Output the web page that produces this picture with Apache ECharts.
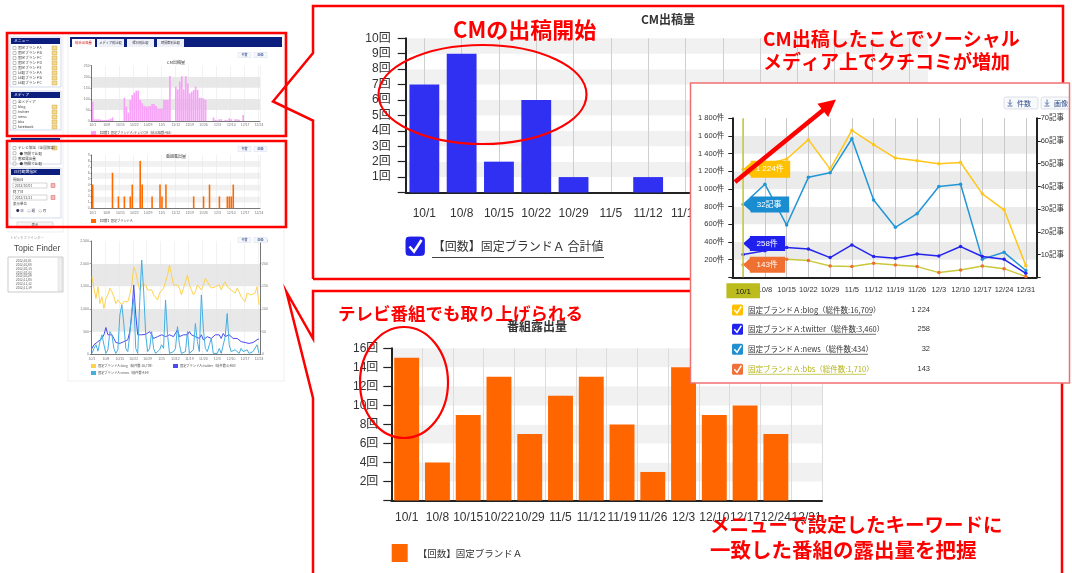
<!DOCTYPE html>
<html><head><meta charset="utf-8">
<script src="https://cdn.jsdelivr.net/npm/echarts/dist/echarts.min.js"></script>
<style>
html,body{margin:0;padding:0;background:#fff;}
#wrap{position:relative;width:1072px;height:573px;overflow:hidden;background:#fff;}
#base,#overlay{position:absolute;left:0;top:0;width:1072px;height:573px;}
#inset{position:absolute;left:690px;top:83px;width:380px;height:300px;}
#overlay{pointer-events:none;}
</style></head>
<body><div id="wrap"><div id="base"></div><div id="inset"></div><div id="overlay"></div></div>
<script>
// ---------------- data ----------------
const weeks = ['10/1','10/8','10/15','10/22','10/29','11/5','11/12','11/19','11/26','12/3','12/10','12/17','12/24','12/31'];
const cmCounts = [7,9,2,6,1,0,1,0,0,0,0,0,0,0];
const tvCounts = [15,4,9,13,7,11,13,8,3,14,9,10,7,0];
const blogVals = [1224,1280,1339,1558,1225,1664,1501,1350,1320,1286,1300,945,764,132];
const twitterVals = [258,300,336,321,223,367,235,216,264,242,348,235,204,45];
const newsVals = [32,41,23,44,46,61,34,22,28,40,41,8,11,3];
const bbsVals = [143,175,204,189,128,121,159,140,121,53,83,128,98,8];
const insetLegend = [
  {name:'固定ブランドＡ:blog（総件数:16,709）', value:'1 224'},
  {name:'固定ブランドＡ:twitter（総件数:3,460）', value:'258'},
  {name:'固定ブランドＡ:news（総件数:434）', value:'32'},
  {name:'固定ブランドＡ:bbs（総件数:1,710）', value:'143'}
];
// thumbnails (daily, from 10/1)
const pinkDaily = [87,8,7,8,6,5,4,5,6,10,16,0,0,0,0,0,105,65,38,95,117,128,137,137,95,80,68,65,65,68,77,77,68,57,57,57,95,95,95,203,0,0,155,143,178,203,143,203,170,125,132,140,155,140,105,105,102,95,0,0,0,16,5,3,8,8,0,5,3,12,8,0,8,8,6,0,27,0,0,0,0,0,0,0,0];
const orangeDaily = [4,0,0,0,0,0,0,0,0,0, 6,0,0,2,0,0,2,0,0,2, 4,0,0,0,8,4,0,0,0,0, 2,0,0,0,4,2,0,4,0,0, 0,0,0,0,0,0,0,0,0,0, 0,2,0,0,0,0,2,0,0,4, 0,0,0,0,2,0,0,0,2,2, 2,4,0,0,0,0,0,0,0,0, 0,0,0,0,0];
const lineBlog = [1710,1460,1230,1490,1120,1270,1010,1230,1310,1460, 1380,1270,1120,1200,1160,1090,1160,1120,1160,1310, 1530,1930,1820,1600,1420,1530,1490,1530,1420,1380, 1420,1310,1270,1200,1350,1380,1460,1420,1750,1970, 1750,1530,1530,1530,1460,1310,1460,1600,1750,1530, 1490,1310,1380,1530,1490,1420,1530,1680,1680,1530, 1460,1420,1490,1460,1530,1420,1530,1600,1490,1490, 1420,1460,1350,1460,1380,1270,1270,1160,1350,1380, 1310,1270,1350,1490,1090];
const lineTwitter = [130,210,240,280,320,350,430,590,430,390, 430,350,260,280,240,280,280,290,320,500, 870,1530,870,430,390,430,390,440,430,500, 430,350,390,390,430,430,460,390,350,430, 460,390,430,540,390,350,430,460,430,500, 430,460,390,430,350,430,320,350,390,430, 350,320,430,390,430,350,460,390,350,430, 390,350,390,350,320,280,290,260,240,240, 260,260,280,320,340];
const lineNews = [2,13,21,7,28,43,21,2,10,50, 43,13,2,10,87,109,68,13,6,43, 94,123,13,2,116,208,138,43,6,13, 50,13,2,2,10,21,13,120,43,2, 2,6,13,61,21,2,2,6,50,2, 2,10,68,28,6,131,57,13,6,21, 35,2,2,2,13,2,6,39,90,21, 6,2,10,6,2,13,6,2,10,2, 6,6,2,21,2];
const thumbDays = [];
for (let i = 0; i < pinkDaily.length; i++) { const d = new Date(2012, 9, 1 + i); thumbDays.push((d.getMonth()+1) + '/' + d.getDate()); }
const centerSlots = Array.from({length: weeks.length*2+1}, (_, i) => String(i));

// ---------------- helpers ----------------
const LAT = "'Liberation Sans','Noto Sans CJK JP',sans-serif";
const JP = "'Noto Sans CJK JP','Liberation Sans',sans-serif";
function T(x, y, text, size, color, o) {
  o = o || {};
  const al = o.align || 'left', va = o.va || 'middle';
  return {type:'text', x:x, y:y, z:o.z || 5, silent:true,
    style:{text:text, fill:color, fontSize:size, fontFamily:o.family || JP, fontWeight:o.weight || 'normal',
      align:al, verticalAlign:va, textAlign:al, textVerticalAlign:va}};
}
function R(x, y, w, h, fill, stroke, lw, z, r) {
  return {type:'rect', z:z || 1, silent:true, shape:{x:x, y:y, width:w, height:h, r:r || 0},
    style:{fill:fill || 'none', stroke:stroke || 'none', lineWidth:lw || 0}};
}
function L(x1, y1, x2, y2, color, lw, z) {
  return {type:'line', z:z || 5, silent:true, shape:{x1:x1, y1:y1, x2:x2, y2:y2}, style:{stroke:color, lineWidth:lw || 1}};
}
function PL(points, color, lw, z) {
  return {type:'polyline', z:z || 5, silent:true, shape:{points:points}, style:{stroke:color, lineWidth:lw || 1, fill:'none'}};
}
function fmtSpace(v) { return v >= 1000 ? Math.floor(v/1000) + ' ' + String(v % 1000).padStart(3, '0') : String(v); }

// ---------------- base graphics (mock UI + red frames) ----------------
const g = [];
function panel(x, y, w, h, header, rows, step, icons) {
  g.push(R(x, y, w, h, '#fff', '#c3cbe4', 0.7, 1));
  if (header !== null) {
    g.push(R(x + 1, y + 1, w - 2, 6, '#0c1f7f', null, 0, 2));
    g.push(T(x + 4, y + 4, header, 3.8, '#fff', {z:3}));
  } else {
    g.push(R(x + 1, y + 1, w - 2, 2, '#0c1f7f', null, 0, 2));
  }
  rows.forEach((lab, i) => {
    const ry = y + 11 + i * step;
    g.push(R(x + 3, ry - 1.5, 3, 3, '#fff', '#8a8a8a', 0.5, 2));
    g.push(T(x + 8, ry, lab, 3.6, '#444', {z:3}));
    if (icons && icons[i]) g.push(R(x + w - 9, ry - 2, 5, 4, '#f2d98c', '#c8a040', 0.4, 2));
  });
}
g.push(R(8, 34, 55, 198, 'none', '#e3e3e3', 0.6, 1));
panel(10, 37, 51, 50, 'メニュー', ['固定ブランドA','固定ブランドB','固定ブランドC','固定ブランドD','固定ブランドE','比較ブランドA','比較ブランドB','比較ブランドC'], 5, [1,1,1,1,1,1,1,1]);
panel(10, 91, 51, 39, 'メディア', ['全メディア','blog','twitter','news','bbs','facebook'], 5, [0,1,1,1,1,1]);
panel(10, 137, 51, 27, null, ['テレビ放送（全国放送）','  ● 期間で比較','番組露出量','  ● 期間で比較'], 5.2, [1,0,0,0]);
// date panel
g.push(R(10, 168, 51, 50, '#fff', '#c3cbe4', 0.7, 1));
g.push(R(11, 169, 49, 6, '#0c1f7f', null, 0, 2));
g.push(T(14, 172, '日付範囲指定', 3.8, '#fff', {z:3}));
g.push(T(13, 180, '開始日', 3.5, '#444'));
g.push(R(13, 183, 34, 5, '#fff', '#aaa', 0.5, 2));
g.push(T(15, 185.5, '2012/10/01', 3.3, '#555'));
g.push(R(51, 183.5, 4, 4, '#f6b8b8', '#d04040', 0.4, 2));
g.push(T(13, 192, '終了日', 3.5, '#444'));
g.push(R(13, 195, 34, 5, '#fff', '#aaa', 0.5, 2));
g.push(T(15, 197.5, '2012/12/31', 3.3, '#555'));
g.push(R(51, 195.5, 4, 4, '#f6b8b8', '#d04040', 0.4, 2));
g.push(T(13, 204, '表示単位', 3.5, '#444'));
g.push(T(16, 211, '● 日　○ 週　○ 月', 3.5, '#335'));
g.push(R(17, 222, 36, 6, '#f5f5f5', '#bbb', 0.5, 2));
g.push(T(35, 225, '表示', 3.4, '#444', {align:'center'}));
g.push(T(10, 238, 'トピックファインダー', 3.4, '#999'));
g.push(T(14, 249, 'Topic Finder', 8.5, '#444', {family:LAT}));
g.push(R(8, 257, 55, 35, '#fff', '#aaa', 0.6, 1));
g.push(R(58, 258, 4, 33, '#f0f0f0', '#ccc', 0.4, 2));
['2012/10/01','2012/10/08','2012/10/15','2012/10/22','2012/10/29','2012/11/05','2012/11/12','2012/11/19'].forEach((s, i) => g.push(T(16, 261 + i * 3.8, s, 3, '#555')));
// tabs + thumbnail frame
g.push(R(68, 34, 216, 347, 'none', '#e4e4e4', 0.6, 1));
g.push(R(70, 37, 212, 10, '#0c1f7f', null, 0, 2));
g.push(R(72, 39, 23, 8, '#fff', null, 0, 3));
g.push(T(83.5, 43, '総合出稿量', 3.3, '#d02020', {align:'center', z:4}));
[[97,'メディア別比較'],[127,'曜日別比較'],[157,'時間帯別比較']].forEach(t => {
  g.push(R(t[0], 39, 27, 8, '#eef1f8', null, 0, 3));
  g.push(T(t[0] + 13.5, 43, t[1], 3.2, '#334', {align:'center', z:4}));
});
[[55,'CM出稿量'],[149,'番組露出量'],[240,null]].forEach(b => {
  g.push(R(238, b[0] - 2.5, 13, 5, '#f6f8fc', '#cfd5e6', 0.4, 2));
  g.push(T(244.5, b[0], '件数', 3, '#2a4a8a', {align:'center', z:3}));
  g.push(R(254, b[0] - 2.5, 13, 5, '#f6f8fc', '#cfd5e6', 0.4, 2));
  g.push(T(260.5, b[0], '画像', 3, '#2a4a8a', {align:'center', z:3}));
  if (b[1]) g.push(T(176, b[0] + 7, b[1], 4, '#333', {align:'center'}));
});
g.push(R(91, 131, 5, 4, '#f7a1f7', null, 0, 2));
g.push(T(98, 133, '【回数】固定ブランドＡ:テレビCM（総出稿数:463）', 3.2, '#555'));
g.push(R(91, 219, 5, 4, '#ff6a00', null, 0, 2));
g.push(T(98, 221, '【回数】固定ブランドＡ', 3.2, '#555'));
g.push(R(91, 364, 5, 4, '#ffd24d', null, 0, 2));
g.push(T(98, 366, '固定ブランドＡ:blog（総件数:16,709）', 3.2, '#555'));
g.push(R(173, 364, 5, 4, '#4a4af0', null, 0, 2));
g.push(T(180, 366, '固定ブランドＡ:twitter（総件数:3,460）', 3.2, '#555'));
g.push(R(91, 371, 5, 4, '#45aee0', null, 0, 2));
g.push(T(98, 373, '固定ブランドＡ:news（総件数:434）', 3.2, '#555'));
// top chart legend checkbox + underline
g.push(R(405.7, 236.7, 19, 19, '#1f1fe8', null, 0, 100, 3));
g.push(PL([[409.5, 246.5],[414, 251.5],[421.5, 240]], '#fff', 2.6, 101));
g.push(L(432, 257.5, 604, 257.5, '#444', 1, 100));
// red frames
g.push({type:'polyline', z:100, silent:true, shape:{points:[[313,279],[313,120.5],[273,101.5],[313,53],[313,6],[1063,6],[1063,279],[313,279]]}, style:{stroke:'#ff0000', lineWidth:2.5, fill:'none'}});
g.push({type:'polyline', z:100, silent:true, shape:{points:[[313,580],[313,398],[286.5,292],[313,338.5],[313,291],[1062,291],[1062,580]]}, style:{stroke:'#ff0000', lineWidth:2.5, fill:'none'}});
g.push(R(7, 33, 279, 103, 'none', '#ff0000', 2.6, 100));
g.push(R(7, 141, 279, 86, 'none', '#ff0000', 2.6, 100));

const yMain = (gi, max, iv, mg) => ({type:'value', gridIndex:gi, min:0, max:max, interval:iv,
  axisLine:{show:true, lineStyle:{color:'#222', width:2}}, axisTick:{show:true, length:8, lineStyle:{color:'#222', width:1.2}},
  axisLabel:{formatter:v => v ? v + '回' : '', fontSize:12, color:'#333', margin:mg, fontFamily:LAT},
  splitLine:{show:false}, splitArea:{show:true, areaStyle:{color:['#ffffff','#f1f1f1']}}});
const dayAxis = gi => ({type:'category', gridIndex:gi, data:thumbDays,
  axisLine:{lineStyle:{color:'#555', width:0.8}}, axisTick:{show:false},
  axisLabel:{interval:6, fontSize:3.5, color:'#777', margin:2.5},
  splitLine:{show:true, interval:6, lineStyle:{color:'#e4e4e4', width:0.5}}});
const thumbY = (gi, max, iv, pos, band) => ({type:'value', gridIndex:gi, min:0, max:max, interval:iv, position:pos,
  axisLine:{show:true, lineStyle:{color:'#555', width:0.8}}, axisTick:{show:true, length:1.5, lineStyle:{color:'#555', width:0.5}},
  axisLabel:{fontSize:3.5, color:'#777', margin:2}, splitLine:{show:false},
  splitArea:{show:band, areaStyle:{color:['#ffffff','#e8e8e8']}}});

const base = echarts.init(document.getElementById('base'));
base.setOption({
  animation:false,
  backgroundColor:'#ffffff',
  textStyle:{fontFamily:LAT},
  title:[
    {text:'CM出稿量', left:641, top:13, padding:0, textStyle:{fontSize:12, fontWeight:'bold', color:'#333', fontFamily:JP}},
    {text:'番組露出量', left:507, top:320, padding:0, textStyle:{fontSize:12, fontWeight:'bold', color:'#333', fontFamily:JP}}
  ],
  legend:[
    {data:['【回数】固定ブランドＡ 合計値'], left:405.7, top:236.7, padding:0, itemWidth:19, itemHeight:19, icon:'roundRect',
      selectedMode:false, textStyle:{fontSize:12, color:'#333', fontFamily:JP, padding:[0,0,0,3]}},
    {data:['【回数】固定ブランドＡ'], left:391.7, top:544, padding:0, itemWidth:16, itemHeight:18, icon:'rect',
      selectedMode:false, textStyle:{fontSize:9.5, color:'#333', fontFamily:JP, padding:[0,0,0,5]}}
  ],
  grid:[
    {left:405.7, top:38.3, width:522.2, height:154.2},
    {left:391.3, top:348.3, width:430.7, height:152.2},
    {left:91.7, top:65.7, width:168.3, height:55.3},
    {left:91.7, top:155, width:168.3, height:53.3},
    {left:91, top:241, width:169, height:113.3}
  ],
  xAxis:[
    {type:'category', gridIndex:0, data:weeks, axisLine:{lineStyle:{color:'#222', width:2}},
      axisTick:{alignWithLabel:true, length:7, lineStyle:{color:'#222', width:1.2}},
      axisLabel:{interval:0, fontSize:12, color:'#333', margin:15}, splitLine:{show:false}},
    {type:'category', gridIndex:0, data:centerSlots, boundaryGap:false, position:'top',
      axisLine:{show:false}, axisTick:{show:false}, axisLabel:{show:false},
      splitLine:{show:true, interval:i => i % 2 === 1, lineStyle:{color:'#cfcfcf', width:1}}},
    {type:'category', gridIndex:1, data:weeks, axisLine:{lineStyle:{color:'#222', width:2}},
      axisTick:{alignWithLabel:true, length:7, lineStyle:{color:'#222', width:1.2}},
      axisLabel:{interval:0, fontSize:12, color:'#333', margin:11},
      splitLine:{show:true, lineStyle:{color:'#dcdcdc', width:1}}},
    dayAxis(2), dayAxis(3), dayAxis(4)
  ],
  yAxis:[
    yMain(0, 10, 1, 15),
    yMain(1, 16, 2, 13),
    thumbY(2, 250, 50, 'left', true),
    Object.assign(thumbY(3, 9, 1, 'left', true), {splitArea:{show:true, areaStyle:{color:['#ffffff','#f1f1f1']}}}),
    thumbY(4, 2500, 500, 'left', true),
    thumbY(4, 250, 50, 'right', false)
  ],
  series:[
    {name:'【回数】固定ブランドＡ 合計値', type:'bar', xAxisIndex:0, yAxisIndex:0, data:cmCounts, barWidth:'80%',
      itemStyle:{color:'#3030f2'}},
    {name:'【回数】固定ブランドＡ', type:'bar', xAxisIndex:2, yAxisIndex:1, data:tvCounts, barWidth:'81%',
      itemStyle:{color:'#ff6600'}},
    {name:'thumbCM', type:'bar', xAxisIndex:3, yAxisIndex:2, data:pinkDaily, barWidth:'85%',
      itemStyle:{color:'#f7a1f7'}},
    {name:'thumbTV', type:'bar', xAxisIndex:4, yAxisIndex:3, data:orangeDaily, barWidth:'80%',
      itemStyle:{color:'#ff6a00'}},
    {name:'thumbBlog', type:'line', xAxisIndex:5, yAxisIndex:4, data:lineBlog, symbol:'none',
      lineStyle:{color:'#ffd24d', width:1}},
    {name:'thumbTwitter', type:'line', xAxisIndex:5, yAxisIndex:4, data:lineTwitter, symbol:'none',
      lineStyle:{color:'#4a4af0', width:1}},
    {name:'thumbNews', type:'line', xAxisIndex:5, yAxisIndex:5, data:lineNews, symbol:'none',
      lineStyle:{color:'#45aee0', width:1}}
  ],
  graphic:{elements:g}
});

// ---------------- inset line chart ----------------
const flag = 'path://M0,10 L8,2 L8,0 L50,0 L50,20 L8,20 L8,18 Z';
function tag(coordVal, text, color, size, offset) {
  return {silent:true, symbol:flag, symbolKeepAspect:false,
    data:[{coord:[0, coordVal], symbolSize:size, symbolOffset:offset, value:text,
      itemStyle:{color:color},
      label:{show:true, formatter:text, color:'#fff', fontSize:8, offset:[3,0]}}]};
}
const ig = [];
insetLegend.forEach((it, i) => {
  const y = [227, 246.3, 266.3, 286.3][i];
  const col = ['#ffc000','#2222ee','#1f8fd0','#ef7038'][i];
  ig.push(R(42, y - 5.5, 11, 11, col, null, 0, 10, 1.5));
  ig.push(PL([[44.3, y],[47, y + 3],[51.3, y - 3.6]], '#fff', 1.5, 11));
  const tc = i === 3 ? '#b3b318' : '#333';
  ig.push(T(58, y, it.name, 7.5, tc, {z:10}));
  ig.push(L(58, y + 5, [182, 186, 178, 176][i], y + 5, tc, 0.7, 10));
  ig.push(T(240, y, it.value, 7.5, '#333', {align:'right', family:LAT, z:10}));
});
[[314,'件数'],[351,'画像']].forEach(b => {
  ig.push(R(b[0], 14, 34, 12, '#f8f9fb', '#c9cfdb', 0.6, 10, 2));
  ig.push(L(b[0] + 6, 16.5, b[0] + 6, 21.5, '#3a5ca0', 0.8, 11));
  ig.push(PL([[b[0] + 4, 19.5],[b[0] + 6, 21.5],[b[0] + 8, 19.5]], '#3a5ca0', 0.8, 11));
  ig.push(L(b[0] + 3.5, 23, b[0] + 8.5, 23, '#3a5ca0', 0.8, 11));
  ig.push(T(b[0] + 20, 20, b[1], 7, '#2a4a8a', {align:'center', z:11}));
});
const inset = echarts.init(document.getElementById('inset'));
inset.setOption({
  animation:false,
  backgroundColor:'#ffffff',
  textStyle:{fontFamily:LAT},
  grid:{left:42.3, top:35.3, width:304.4, height:159},
  xAxis:[
    {type:'category', data:weeks, axisLine:{lineStyle:{color:'#222', width:2}},
      axisTick:{alignWithLabel:true, length:4, lineStyle:{color:'#222'}},
      axisLabel:{interval:0, fontSize:7.5, color:'#333', margin:9}, splitLine:{show:false},
      axisPointer:{show:true, type:'line', value:0, status:'show', snap:true, triggerTooltip:false,
        lineStyle:{color:'#c9c94a', width:1.5, type:'solid'},
        label:{show:true, backgroundColor:'#bcbc1e', color:'#222', fontSize:8, padding:[4,9,3,9], margin:6, borderRadius:0}}},
    {type:'category', data:centerSlots, boundaryGap:false, position:'top',
      axisLine:{show:false}, axisTick:{show:false}, axisLabel:{show:false},
      splitLine:{show:true, interval:i => i % 2 === 1, lineStyle:{color:'#c8c8c8', width:1}}}
  ],
  yAxis:[
    {type:'value', min:0, max:1800, interval:200, position:'left',
      axisLine:{show:true, lineStyle:{color:'#222', width:2}}, axisTick:{show:true, length:4, lineStyle:{color:'#222'}},
      axisLabel:{formatter:v => v ? fmtSpace(v) + '件' : '', fontSize:7.5, color:'#333', margin:8},
      splitLine:{show:false}, splitArea:{show:true, areaStyle:{color:['#ffffff','#ebebeb']}}},
    {type:'value', min:0, max:70, interval:10, position:'right',
      axisLine:{show:true, lineStyle:{color:'#222', width:2}}, axisTick:{show:true, length:4, lineStyle:{color:'#222'}},
      axisLabel:{formatter:v => v ? v + '記事' : '', fontSize:7.5, color:'#333', margin:4},
      splitLine:{show:false}}
  ],
  series:[
    {name:'blog', type:'line', data:blogVals, yAxisIndex:0, symbol:'circle', symbolSize:3.5,
      lineStyle:{color:'#ffc61a', width:1.5}, itemStyle:{color:'#ffc61a'},
      markPoint:tag(1224, '1 224件', '#ffc000', [47,17], [23.5,0])},
    {name:'news', type:'line', data:newsVals, yAxisIndex:1, symbol:'circle', symbolSize:3.5,
      lineStyle:{color:'#2196d6', width:1.5}, itemStyle:{color:'#2196d6'},
      markPoint:tag(32, '32記事', '#1a8cd0', [46,16], [23,0])},
    {name:'twitter', type:'line', data:twitterVals, yAxisIndex:0, symbol:'circle', symbolSize:3.5,
      lineStyle:{color:'#2424ee', width:1.5}, itemStyle:{color:'#2424ee'},
      markPoint:tag(258, '258件', '#2020ee', [42,15], [21,-11])},
    {name:'bbs', type:'line', data:bbsVals, yAxisIndex:0, symbol:'circle', symbolSize:3.5,
      lineStyle:{color:'#c9c83a', width:1.5}, itemStyle:{color:'#ef6f2e'},
      markPoint:tag(143, '143件', '#ef7030', [42,16], [21,0])}
  ],
  graphic:{elements:ig}
});

// ---------------- overlay annotations ----------------
const og = [];
og.push(R(690.5, 83, 379, 300, 'none', '#f07070', 1.5, 5));
og.push({type:'ellipse', z:10, silent:true, shape:{cx:482.5, cy:94.5, rx:104, ry:49.5}, style:{fill:'none', stroke:'#ff0000', lineWidth:2.2}});
og.push({type:'ellipse', z:10, silent:true, shape:{cx:404, cy:382.5, rx:44, ry:55.5}, style:{fill:'none', stroke:'#ff0000', lineWidth:2.2}});
og.push(L(735, 182, 824.5, 109, '#ff0000', 4.5, 10));
og.push({type:'polygon', z:10, silent:true, shape:{points:[[836,99.5],[828.2,116.9],[817.4,103.7]]}, style:{fill:'#ff0000'}});
const red = {weight:'bold', z:20};
og.push(T(453, 30, 'CMの出稿開始', 22, '#ff0000', red));
og.push(T(763, 38.5, 'CM出稿したことでソーシャル', 19, '#ff0000', red));
og.push(T(763, 62, 'メディア上でクチコミが増加', 19, '#ff0000', red));
og.push(T(338, 313.5, 'テレビ番組でも取り上げられる', 17.5, '#ff0000', red));
og.push(T(710, 525, 'メニューで設定したキーワードに', 19.5, '#ff0000', red));
og.push(T(710, 550, '一致した番組の露出量を把握', 20.5, '#ff0000', red));
const overlay = echarts.init(document.getElementById('overlay'));
overlay.setOption({animation:false, graphic:{elements:og}});
</script></body></html>
